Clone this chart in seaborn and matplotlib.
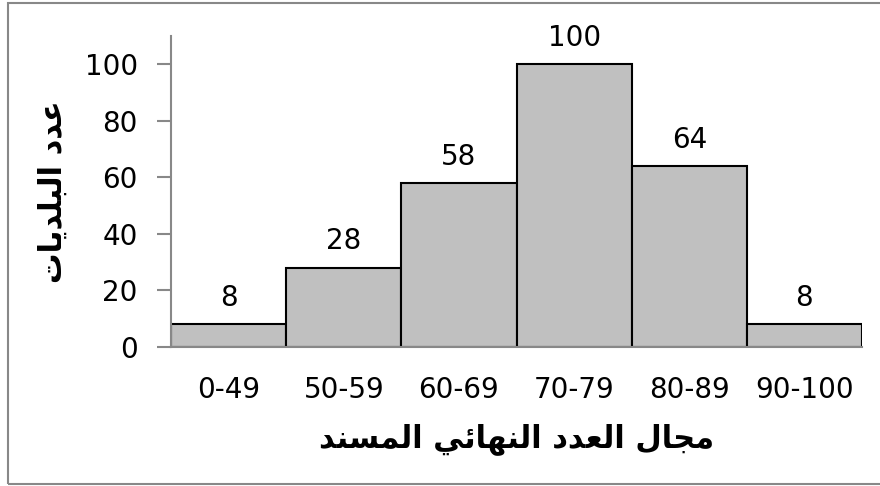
import matplotlib
matplotlib.use("Agg")
import matplotlib.pyplot as plt
import seaborn as sns
import pandas as pd
from matplotlib.patches import Rectangle


# %% data
score_ranges = ['0-49', '50-59', '60-69', '70-79', '80-89', '90-100']
municipalities = [8, 28, 58, 100, 64, 8]

x_title = 'مجال العدد النهائي المسند'
y_title = 'عدد البلديات'


# %% tiny arabic shaper (matplotlib has no bidi / joining support)
# letter: (isolated, final, initial, medial)
FORMS = {
    'ا': ('\uFE8D', '\uFE8E', None, None),
    'ب': ('\uFE8F', '\uFE90', '\uFE91', '\uFE92'),
    'ت': ('\uFE95', '\uFE96', '\uFE97', '\uFE98'),
    'ج': ('\uFE9D', '\uFE9E', '\uFE9F', '\uFEA0'),
    'د': ('\uFEA9', '\uFEAA', None, None),
    'س': ('\uFEB1', '\uFEB2', '\uFEB3', '\uFEB4'),
    'ع': ('\uFEC9', '\uFECA', '\uFECB', '\uFECC'),
    'ل': ('\uFEDD', '\uFEDE', '\uFEDF', '\uFEE0'),
    'م': ('\uFEE1', '\uFEE2', '\uFEE3', '\uFEE4'),
    'ن': ('\uFEE5', '\uFEE6', '\uFEE7', '\uFEE8'),
    'ه': ('\uFEE9', '\uFEEA', '\uFEEB', '\uFEEC'),
    'ي': ('\uFEF1', '\uFEF2', '\uFEF3', '\uFEF4'),
    'ئ': ('\uFE89', '\uFE8A', '\uFE8B', '\uFE8C'),
}


def shape(text):
    out = []
    for i, c in enumerate(text):
        if c not in FORMS:
            out.append(c)
            continue
        iso, fin, ini, med = FORMS[c]
        prev = text[i - 1] if i > 0 else None
        nxt = text[i + 1] if i + 1 < len(text) else None
        join_prev = prev in FORMS and FORMS[prev][2] is not None
        join_next = nxt in FORMS and ini is not None
        if join_prev and join_next:
            out.append(med)
        elif join_prev:
            out.append(fin)
        elif join_next:
            out.append(ini)
        else:
            out.append(iso)
    return ''.join(reversed(out))


# %% plot
sns.set_style('white')
plt.rcParams['font.family'] = ['DejaVu Sans']
plt.rcParams['text.color'] = 'black'
plt.rcParams['axes.labelcolor'] = 'black'
plt.rcParams['xtick.labelcolor'] = 'black'
plt.rcParams['ytick.labelcolor'] = 'black'

df = pd.DataFrame({'range': score_ranges, 'count': municipalities})

fig = plt.figure(figsize = (8.8, 4.86), dpi = 100)
ax = fig.add_axes([171 / 880, 1 - 347 / 486, 691 / 880, 311 / 486])

sns.barplot(x = 'range', y = 'count', data = df, ax = ax, width = 1,
            color = '#c0c0c0', saturation = 1, edgecolor = 'black', linewidth = 1.5)

ax.bar_label(ax.containers[0], labels = [str(v) for v in municipalities],
             padding = 9, fontsize = 20, color = 'black')

ax.set_xlim(-0.5, len(score_ranges) - 0.5)
ax.set_ylim(0, 110)
ax.set_yticks(range(0, 101, 20))

for s in ['top', 'right']:
    ax.spines[s].set_visible(False)
for s in ['left', 'bottom']:
    ax.spines[s].set_color('#888888')
    ax.spines[s].set_linewidth(1.5)

ax.tick_params(axis = 'y', length = 10, width = 1.5, color = '#888888',
               labelsize = 20, pad = 14, left = True)
ax.tick_params(axis = 'x', length = 0, labelsize = 20, pad = 21)

ax.set_xlabel(shape(x_title), fontsize = 22, fontweight = 'bold', labelpad = 14)
ax.set_ylabel(shape(y_title), fontsize = 22, fontweight = 'bold', labelpad = 12)

# chart frame
fig.patches.append(Rectangle((8 / 880, 2 / 486), 1.0, 481 / 486, transform = fig.transFigure,
                             fill = False, edgecolor = '#888888', linewidth = 1.5))

fig.savefig('out.png', dpi = 100, facecolor = 'white')
